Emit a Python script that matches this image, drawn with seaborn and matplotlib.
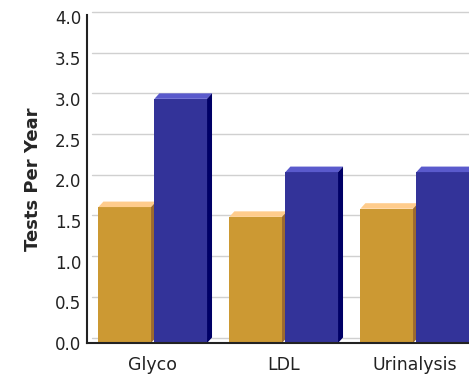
import matplotlib
matplotlib.use("Agg")
import matplotlib.pyplot as plt
from matplotlib.patches import Polygon
import numpy as np
import pandas as pd
import seaborn as sns

# Data
categories = ["Glyco", "LDL", "Urinalysis"]
series_names = ["Actual", "Recommended"]
actual = [1.67, 1.55, 1.65]
recommended = [3.0, 2.1, 2.1]
y_ticks = [0.0, 0.5, 1.0, 1.5, 2.0, 2.5, 3.0, 3.5, 4.0]

df = pd.DataFrame({
    "test": categories * 2,
    "series": [series_names[0]] * 3 + [series_names[1]] * 3,
    "value": actual + recommended,
})

front = {"Actual": "#cc9933", "Recommended": "#333399"}
top_c = {"Actual": "#ffcc8c", "Recommended": "#5a5acc"}
side_c = {"Actual": "#9c6a2e", "Recommended": "#000066"}

sns.set_style("white")
plt.rcParams["font.family"] = ["DejaVu Sans"]

W, H = 469, 378
fig = plt.figure(figsize=(W / 100, H / 100), dpi=100)
ax_left, ax_bottom, ax_top = 86.7, 343, 15
ax = fig.add_axes([ax_left / W, (H - ax_bottom) / H, (W - ax_left) / W, (ax_bottom - ax_top) / H])

sns.barplot(data=df, x="test", y="value", hue="series", order=categories,
            hue_order=series_names, palette=front, width=0.855, gap=0.06,
            saturation=1, legend=False, ax=ax, linewidth=0)

px_per_x = 131.0
ax.set_xlim(-(152.7 - ax_left) / px_per_x, (W - 152.7) / px_per_x)
ymax = 4.03
ax.set_ylim(0, ymax)
px_per_y = (ax_bottom - ax_top) / ymax

# depth offsets of the 3D effect, in data units
dx = 5.0 / px_per_x
dy = 5.5 / px_per_y

# back-wall gridlines
x0, x1 = ax.get_xlim()
for v in y_ticks:
    ax.plot([x0 + dx, x1], [v + dy, v + dy], color="#d0d0d0", lw=1.0, zorder=0.5,
            clip_on=False)

# bars: seaborn draws one hue level at a time, so rebuild the order per category
patches = list(ax.patches)
n_cat = len(categories)
order = []
for ci in range(n_cat):
    for si, name in enumerate(series_names):
        order.append((patches[si * n_cat + ci], name))

z = 2.0
for p, name in order:
    bx, by = p.get_x(), p.get_y()
    bw, bh = p.get_width(), p.get_height()
    p.set_zorder(z)
    top = Polygon([(bx, by + bh), (bx + bw, by + bh), (bx + bw + dx, by + bh + dy),
                   (bx + dx, by + bh + dy)], closed=True, facecolor=top_c[name],
                  edgecolor="none", zorder=z + 0.1)
    side = Polygon([(bx + bw, by), (bx + bw, by + bh), (bx + bw + dx, by + bh + dy),
                    (bx + bw + dx, by + dy)], closed=True, facecolor=side_c[name],
                   edgecolor="none", zorder=z + 0.1)
    ax.add_patch(top)
    ax.add_patch(side)
    z += 1

ax.set_yticks(y_ticks)
ax.set_yticklabels([f"{v:.1f}" for v in y_ticks])
ax.tick_params(axis="both", length=0, colors="#222222")
ax.tick_params(axis="y", pad=4, labelsize=12)
ax.tick_params(axis="x", pad=9, labelsize=12.5)
ax.set_xlabel("")
ax.set_ylabel("Tests Per Year", fontsize=13, fontweight="bold", labelpad=9)

for s in ["top", "right"]:
    ax.spines[s].set_visible(False)
ax.spines["left"].set_color("#222222")
ax.spines["left"].set_linewidth(1.5)
ax.spines["bottom"].set_color("#222222")
ax.spines["bottom"].set_linewidth(1.5)
ax.spines["left"].set_zorder(20)
ax.spines["bottom"].set_zorder(20)

fig.savefig("out.png", dpi=100)
